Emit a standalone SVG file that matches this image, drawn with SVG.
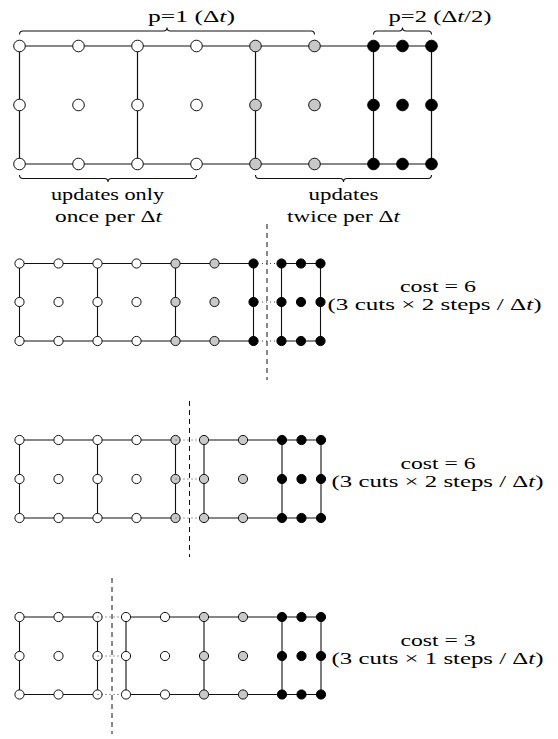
<svg xmlns="http://www.w3.org/2000/svg" width="558" height="739" viewBox="0 0 558 739">
<style>
.ln{stroke:#111;stroke-width:1.2;fill:none}
.ln2{stroke:#111;stroke-width:1.1;fill:none}
.br{stroke:#111;stroke-width:1.1;fill:none}
.dot{stroke:#444;stroke-width:1;stroke-dasharray:1 3;fill:none}
.cut{stroke:#111;stroke-width:1;stroke-dasharray:5 4;fill:none}
.w{fill:#fff;stroke:#111;stroke-width:1}
.g{fill:#c8c8c8;stroke:#111;stroke-width:1}
.b{fill:#000;stroke:#000;stroke-width:1}
text{font-family:"Liberation Serif","Times New Roman",serif;font-size:17px;fill:#000}
.it{font-style:italic}
</style>

<!-- Panel 1 -->
<g id="panel1">
  <g id="p1-edges">
    <path class="ln" d="M19.5,46H431.5M19.5,164H431.5M19.5,46V164M137.5,46V164M255.5,46V164M373.5,46V164M431.5,46V164"/>
    <path class="br" d="M19.5,34.5Q19.5,31 23,31L163.5,31Q167,31 167,27.5Q167,31 170.5,31L311,31Q314.5,31 314.5,34.5"/>
    <path class="br" d="M373.5,34.5Q373.5,31 377,31L399,31Q402.5,31 402.5,27.5Q402.5,31 406,31L428,31Q431.5,31 431.5,34.5"/>
    <path class="br" d="M19.5,175Q19.5,178.5 23,178.5L104.5,178.5Q108,178.5 108,182Q108,178.5 111.5,178.5L193,178.5Q196.5,178.5 196.5,175"/>
    <path class="br" d="M255.5,175Q255.5,178.5 259,178.5L340,178.5Q343.5,178.5 343.5,182Q343.5,178.5 347,178.5L428,178.5Q431.5,178.5 431.5,175"/>
  </g>
  <g id="p1-nodes">
    <g class="w">
      <circle cx="19.5" cy="46" r="5.8"/><circle cx="78.5" cy="46" r="5.8"/><circle cx="137.5" cy="46" r="5.8"/><circle cx="196.5" cy="46" r="5.8"/>
      <circle cx="19.5" cy="105" r="5.8"/><circle cx="78.5" cy="105" r="5.8"/><circle cx="137.5" cy="105" r="5.8"/><circle cx="196.5" cy="105" r="5.8"/>
      <circle cx="19.5" cy="164" r="5.8"/><circle cx="78.5" cy="164" r="5.8"/><circle cx="137.5" cy="164" r="5.8"/><circle cx="196.5" cy="164" r="5.8"/>
    </g>
    <g class="g">
      <circle cx="255.5" cy="46" r="5.8"/><circle cx="314.5" cy="46" r="5.8"/>
      <circle cx="255.5" cy="105" r="5.8"/><circle cx="314.5" cy="105" r="5.8"/>
      <circle cx="255.5" cy="164" r="5.8"/><circle cx="314.5" cy="164" r="5.8"/>
    </g>
    <g class="b">
      <circle cx="373.5" cy="46" r="5.8"/><circle cx="402.5" cy="46" r="5.8"/><circle cx="431.5" cy="46" r="5.8"/>
      <circle cx="373.5" cy="105" r="5.8"/><circle cx="402.5" cy="105" r="5.8"/><circle cx="431.5" cy="105" r="5.8"/>
      <circle cx="373.5" cy="164" r="5.8"/><circle cx="402.5" cy="164" r="5.8"/><circle cx="431.5" cy="164" r="5.8"/>
    </g>
  </g>
  <g id="p1-labels">
    <text x="148" y="22" textLength="87" lengthAdjust="spacingAndGlyphs">p=1 (Δ<tspan class="it">t</tspan>)</text>
    <text x="388.5" y="22" textLength="103" lengthAdjust="spacingAndGlyphs">p=2 (Δ<tspan class="it">t</tspan>/2)</text>
    <text x="51" y="200" textLength="113" lengthAdjust="spacingAndGlyphs">updates only</text>
    <text x="55" y="221.5" textLength="107" lengthAdjust="spacingAndGlyphs">once per Δ<tspan class="it">t</tspan></text>
    <text x="308.5" y="200" textLength="70" lengthAdjust="spacingAndGlyphs">updates</text>
    <text x="287" y="221.5" textLength="113" lengthAdjust="spacingAndGlyphs">twice per Δ<tspan class="it">t</tspan></text>
  </g>
</g>

<!-- Panel 2 -->
<g id="panel2">
  <g id="p2-edges">
    <path class="ln2" d="M19.5,263.5H253.5M19.5,341H253.5M281.5,263.5H320.5M281.5,341H320.5M19.5,263.5V341M97.5,263.5V341M175.5,263.5V341M253.5,263.5V341M281.5,263.5V341M320.5,263.5V341"/>
    <path class="cut" d="M267,224V380"/>
  </g>
  <g id="p2-nodes">
    <g class="w">
      <circle cx="19.5" cy="263.5" r="4.6"/><circle cx="58.5" cy="263.5" r="4.6"/><circle cx="97.5" cy="263.5" r="4.6"/><circle cx="136.5" cy="263.5" r="4.6"/>
      <circle cx="19.5" cy="302" r="4.6"/><circle cx="58.5" cy="302" r="4.6"/><circle cx="97.5" cy="302" r="4.6"/><circle cx="136.5" cy="302" r="4.6"/>
      <circle cx="19.5" cy="341" r="4.6"/><circle cx="58.5" cy="341" r="4.6"/><circle cx="97.5" cy="341" r="4.6"/><circle cx="136.5" cy="341" r="4.6"/>
    </g>
    <g class="g">
      <circle cx="175.5" cy="263.5" r="4.6"/><circle cx="214.5" cy="263.5" r="4.6"/>
      <circle cx="175.5" cy="302" r="4.6"/><circle cx="214.5" cy="302" r="4.6"/>
      <circle cx="175.5" cy="341" r="4.6"/><circle cx="214.5" cy="341" r="4.6"/>
    </g>
    <g class="b">
      <circle cx="253.5" cy="263.5" r="4.6"/><circle cx="253.5" cy="302" r="4.6"/><circle cx="253.5" cy="341" r="4.6"/>
      <circle cx="281.5" cy="263.5" r="4.6"/><circle cx="301" cy="263.5" r="4.6"/><circle cx="320.5" cy="263.5" r="4.6"/>
      <circle cx="281.5" cy="302" r="4.6"/><circle cx="301" cy="302" r="4.6"/><circle cx="320.5" cy="302" r="4.6"/>
      <circle cx="281.5" cy="341" r="4.6"/><circle cx="301" cy="341" r="4.6"/><circle cx="320.5" cy="341" r="4.6"/>
    </g>
  </g>
  <path class="dot" d="M258,263.5H277M258,302H277M258,341H277"/>
  <g id="p2-labels">
    <text x="400" y="291.5" textLength="76" lengthAdjust="spacingAndGlyphs">cost = 6</text>
    <text x="327.5" y="310" textLength="214" lengthAdjust="spacingAndGlyphs">(3 cuts × 2 steps / Δ<tspan class="it">t</tspan>)</text>
  </g>
</g>

<!-- Panel 3 -->
<g id="panel3">
  <g id="p3-edges">
    <path class="ln2" d="M19.5,440H175.5M19.5,518H175.5M204,440H321M204,518H321M19.5,440V518M97.5,440V518M175.5,440V518M204,440V518M282,440V518M321,440V518"/>
    <path class="cut" d="M189.5,401V557"/>
  </g>
  <g id="p3-nodes">
    <g class="w">
      <circle cx="19.5" cy="440" r="4.6"/><circle cx="58.5" cy="440" r="4.6"/><circle cx="97.5" cy="440" r="4.6"/><circle cx="136.5" cy="440" r="4.6"/>
      <circle cx="19.5" cy="479" r="4.6"/><circle cx="58.5" cy="479" r="4.6"/><circle cx="97.5" cy="479" r="4.6"/><circle cx="136.5" cy="479" r="4.6"/>
      <circle cx="19.5" cy="518" r="4.6"/><circle cx="58.5" cy="518" r="4.6"/><circle cx="97.5" cy="518" r="4.6"/><circle cx="136.5" cy="518" r="4.6"/>
    </g>
    <g class="g">
      <circle cx="175.5" cy="440" r="4.6"/><circle cx="175.5" cy="479" r="4.6"/><circle cx="175.5" cy="518" r="4.6"/>
      <circle cx="204" cy="440" r="4.6"/><circle cx="243" cy="440" r="4.6"/>
      <circle cx="204" cy="479" r="4.6"/><circle cx="243" cy="479" r="4.6"/>
      <circle cx="204" cy="518" r="4.6"/><circle cx="243" cy="518" r="4.6"/>
    </g>
    <g class="b">
      <circle cx="282" cy="440" r="4.6"/><circle cx="301.5" cy="440" r="4.6"/><circle cx="321" cy="440" r="4.6"/>
      <circle cx="282" cy="479" r="4.6"/><circle cx="301.5" cy="479" r="4.6"/><circle cx="321" cy="479" r="4.6"/>
      <circle cx="282" cy="518" r="4.6"/><circle cx="301.5" cy="518" r="4.6"/><circle cx="321" cy="518" r="4.6"/>
    </g>
  </g>
  <path class="dot" d="M175.5,440H199.5M175.5,479H199.5M175.5,518H199.5"/>
  <g id="p3-labels">
    <text x="400.5" y="468.5" textLength="75" lengthAdjust="spacingAndGlyphs">cost = 6</text>
    <text x="331.5" y="487" textLength="212" lengthAdjust="spacingAndGlyphs">(3 cuts × 2 steps / Δ<tspan class="it">t</tspan>)</text>
  </g>
</g>

<!-- Panel 4 -->
<g id="panel4">
  <g id="p4-edges">
    <path class="ln2" d="M19.5,617H97.5M19.5,694.5H97.5M126,617H321M126,694.5H321M19.5,617V694.5M97.5,617V694.5M126,617V694.5M204,617V694.5M282,617V694.5M321,617V694.5"/>
    <path class="cut" d="M112,578V734"/>
  </g>
  <g id="p4-nodes">
    <g class="w">
      <circle cx="19.5" cy="617" r="4.6"/><circle cx="58.5" cy="617" r="4.6"/><circle cx="97.5" cy="617" r="4.6"/>
      <circle cx="19.5" cy="656" r="4.6"/><circle cx="58.5" cy="656" r="4.6"/><circle cx="97.5" cy="656" r="4.6"/>
      <circle cx="19.5" cy="694.5" r="4.6"/><circle cx="58.5" cy="694.5" r="4.6"/><circle cx="97.5" cy="694.5" r="4.6"/>
      <circle cx="126" cy="617" r="4.6"/><circle cx="165" cy="617" r="4.6"/>
      <circle cx="126" cy="656" r="4.6"/><circle cx="165" cy="656" r="4.6"/>
      <circle cx="126" cy="694.5" r="4.6"/><circle cx="165" cy="694.5" r="4.6"/>
    </g>
    <g class="g">
      <circle cx="204" cy="617" r="4.6"/><circle cx="243" cy="617" r="4.6"/>
      <circle cx="204" cy="656" r="4.6"/><circle cx="243" cy="656" r="4.6"/>
      <circle cx="204" cy="694.5" r="4.6"/><circle cx="243" cy="694.5" r="4.6"/>
    </g>
    <g class="b">
      <circle cx="282" cy="617" r="4.6"/><circle cx="301.5" cy="617" r="4.6"/><circle cx="321" cy="617" r="4.6"/>
      <circle cx="282" cy="656" r="4.6"/><circle cx="301.5" cy="656" r="4.6"/><circle cx="321" cy="656" r="4.6"/>
      <circle cx="282" cy="694.5" r="4.6"/><circle cx="301.5" cy="694.5" r="4.6"/><circle cx="321" cy="694.5" r="4.6"/>
    </g>
  </g>
  <path class="dot" d="M97.5,617H121.5M97.5,656H121.5M97.5,694.5H121.5"/>
  <g id="p4-labels">
    <text x="400.5" y="645.5" textLength="75" lengthAdjust="spacingAndGlyphs">cost = 3</text>
    <text x="331.5" y="664" textLength="212" lengthAdjust="spacingAndGlyphs">(3 cuts × 1 steps / Δ<tspan class="it">t</tspan>)</text>
  </g>
</g>
</svg>
